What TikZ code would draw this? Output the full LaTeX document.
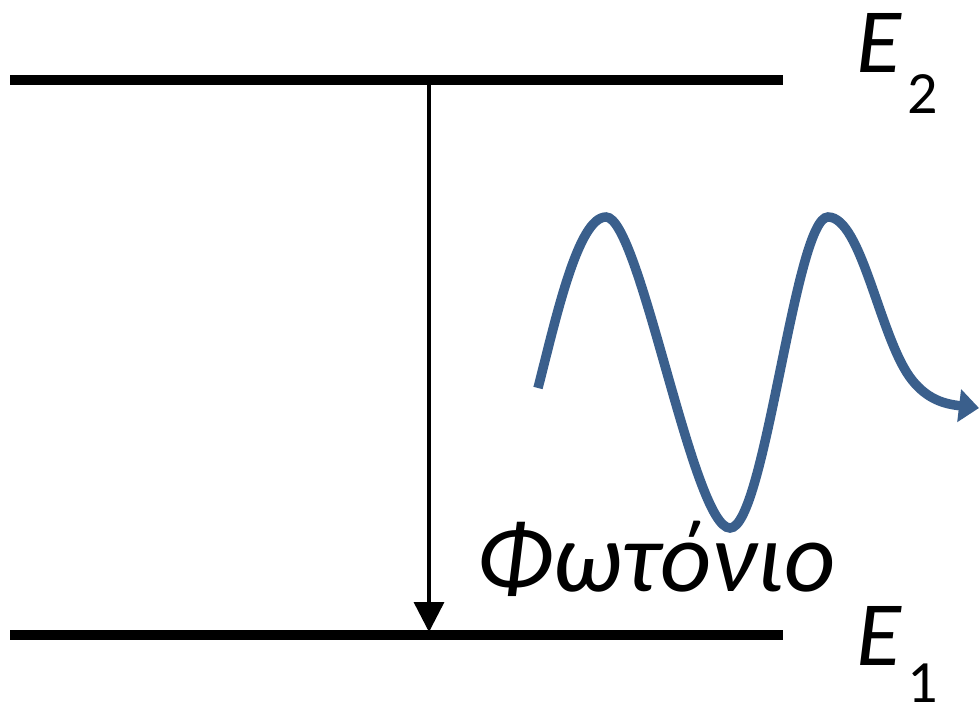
\documentclass[tikz,border=0pt]{standalone}
\usepackage{fontspec}
\setmainfont{Carlito}
\usetikzlibrary{arrows.meta}
\definecolor{wave}{RGB}{58,95,140}
\begin{document}
\begin{tikzpicture}[x=1pt,y=-1pt,
  level/.style={line width=10pt},
  trans/.style={line width=3.5pt,-{Triangle[length=30pt,width=30pt]}},
  photon/.style={line width=9.5pt,color=wave,line cap=butt,-{Triangle[length=20pt,width=32pt]}},
  elabel/.style={inner sep=0pt,font=\fontsize{92}{100}\selectfont\itshape},
  sublabel/.style={inner sep=0pt,font=\fontsize{60}{70}\selectfont},
  txt/.style={inner sep=0pt,font=\fontsize{100}{110}\selectfont\itshape}]
\useasboundingbox (0,0) rectangle (979,709);
\coordinate (t1) at (10,80);
\coordinate (t2) at (783,80);
\coordinate (b1) at (10,635);
\coordinate (b2) at (783,635);
\draw[level] (t1) -- (t2);
\draw[level] (b1) -- (b2);
\coordinate (as) at (429,80);
\coordinate (ae) at (429,632);
\draw[trans] (as) -- (ae);
\coordinate (w0) at (538,388);
\coordinate (w1) at (606,217);
\coordinate (w2) at (730,528);
\coordinate (w3) at (828,217);
\coordinate (w4) at (979,408);
\draw[photon] (w0) .. controls (556,318) and (578,217) .. (w1)
  .. controls (640,217) and (693,528) .. (w2)
  .. controls (765,528) and (795,217) .. (w3)
  .. controls (862,217) and (880,340) .. (912,380)
  .. controls (928,400) and (945,404) .. (w4);
\node[elabel,anchor=base west] (E2) at (856,73) {E};
\node[sublabel,anchor=base west] (s2) at (907,113) {2};
\node[elabel,anchor=base west] (E1) at (856,665) {E};
\node[sublabel,anchor=base west] (s1) at (907,702) {1};
\node[txt,anchor=base west] (ph) at (476,591) {Φωτόνιο};
\end{tikzpicture}
\end{document}
